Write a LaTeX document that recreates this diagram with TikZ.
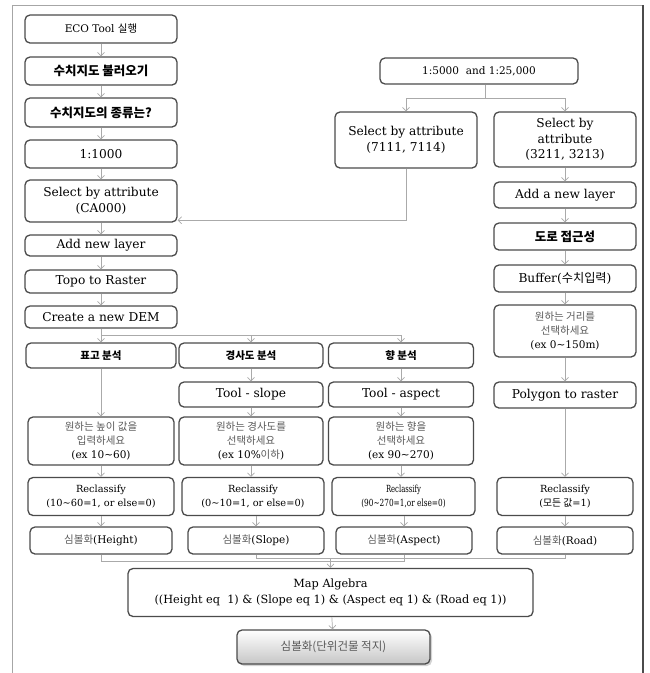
\documentclass[tikz,border=0pt]{standalone}
\usepackage{fontspec}
\setmainfont{DejaVu Serif}
\newfontfamily\kr{Noto Sans CJK KR}
\usetikzlibrary{%
	arrows.meta,%
	calc,%
	shadows
}

\definecolor{boxline}{HTML}{4B4B4B}
\definecolor{arrline}{HTML}{AAAAAA}
\definecolor{krgray}{HTML}{5A5A5A}

% Korean text: heading (bold) and plain (gray)
\newcommand{\kh}[1]{{\kr\bfseries #1}}
\newcommand{\kg}[1]{{\kr\color{krgray}#1}}

\begin{document}
\begin{tikzpicture}[x=1pt,y=-1pt,>={Straight Barb[length=3.5pt,width=7pt]},
	box/.style={draw=boxline, line width=1.3pt, rounded corners=5pt, fill=white,
		align=center, inner sep=1pt, font=\fontsize{12.2}{15.5}\selectfont},
	mid/.style={font=\fontsize{10.5}{14}\selectfont},
	small/.style={font=\fontsize{9.8}{14}\selectfont},
	head/.style={font=\fontsize{12.5}{14}\selectfont},
	arr/.style={->, draw=arrline, line width=0.7pt},
	link/.style={draw=arrline, line width=0.7pt}]
				\useasboundingbox (0,0) rectangle (650,673);
				
				% Frame
				\draw[gray!70, line width=0.8pt] (12,673) -- (12,5) -- (643,5);
				\draw[boxline, line width=2.5pt] (643,5) -- (643,673);
				
				% Left column
				\node[box, mid, minimum width=152pt, minimum height=28pt] (eco) at (101,29) {ECO Tool {\kr 실행}};
				\node[box, head, minimum width=152pt, minimum height=28pt] (load) at (101,71) {\kh{수치지도 불러오기}};
				\node[box, head, minimum width=152pt, minimum height=29pt] (kind) at (101,112.5) {\kh{수치지도의 종류는?}};
				\node[box, minimum width=152pt, minimum height=28pt] (s1000) at (101,154) {1:1000};
				\node[box, minimum width=152pt, minimum height=42pt] (selca) at (101,201) {Select by attribute\\(CA000)};
				\node[box, minimum width=152pt, minimum height=21pt] (addl) at (101,245.5) {Add new layer};
				\node[box, minimum width=152pt, minimum height=23pt] (topo) at (101,281.5) {Topo to Raster};
				\node[box, minimum width=152pt, minimum height=22pt] (dem) at (101,317) {Create a new DEM};
				
				% Right column
				\node[box, mid, minimum width=198pt, minimum height=26pt] (s5000) at (479,71) {1:5000\ \ and 1:25,000};
				\node[box, minimum width=142pt, minimum height=56pt] (sel71) at (406,140) {Select by attribute\\(7111, 7114)};
				\node[box, minimum width=142pt, minimum height=55pt] (sel32) at (565,139.5) {Select by\\attribute\\(3211, 3213)};
				\node[box, minimum width=142pt, minimum height=26pt] (addr) at (565,195) {Add a new layer};
				\node[box, head, minimum width=142pt, minimum height=27pt] (road) at (565,236.5) {\kh{도로 접근성}};
				\node[box, minimum width=142pt, minimum height=27pt] (buf) at (565,278.5) {Buffer({\kr 수치입력})};
				\node[box, mid, minimum width=142pt, minimum height=52pt] (dist) at (565,331) {\kg{원하는 거리를}\\\kg{선택하세요}\\(ex 0\textasciitilde150m)};
				\node[box, minimum width=142pt, minimum height=26pt] (poly) at (565,395) {Polygon to raster};
				
				% Analysis rows
				\node[box, mid, minimum width=150pt, minimum height=25pt] (hgt) at (101,355.5) {\kh{표고 분석}};
				\node[box, mid, minimum width=144pt, minimum height=25pt] (slp) at (251,355.5) {\kh{경사도 분석}};
				\node[box, mid, minimum width=145pt, minimum height=25pt] (asp) at (401,355.5) {\kh{향 분석}};
				\node[box, minimum width=144pt, minimum height=25pt] (tslp) at (251,394.5) {Tool - slope};
				\node[box, minimum width=145pt, minimum height=25pt] (tasp) at (401,394.5) {Tool - aspect};
				\node[box, mid, minimum width=146pt, minimum height=48pt] (hin) at (101,441) {\kg{원하는 높이 값을}\\\kg{입력하세요}\\(ex 10\textasciitilde60)};
				\node[box, mid, minimum width=144pt, minimum height=48pt] (sin) at (251,441) {\kg{원하는 경사도를}\\\kg{선택하세요}\\(ex 10\%\kg{이하})};
				\node[box, mid, minimum width=145pt, minimum height=48pt] (ain) at (401,441) {\kg{원하는 향을}\\\kg{선택하세요}\\(ex 90\textasciitilde270)};
				
				% Reclassify
				\node[box, small, minimum width=146pt, minimum height=38pt] (hre) at (101,496.5) {Reclassify\\(10\textasciitilde60=1, or else=0)};
				\node[box, small, minimum width=142pt, minimum height=38pt] (sre) at (253,496.5) {Reclassify\\(0\textasciitilde10=1, or else=0)};
				\node[box, small, minimum width=143pt, minimum height=38pt] (are) at (403.5,496.5) {\scalebox{0.7}[1]{Reclassify}\\\scalebox{0.75}[1]{(90\textasciitilde270=1,or else=0)}};
				\node[box, small, minimum width=136pt, minimum height=38pt] (rre) at (565,496.5) {Reclassify\\({\kr 모든 값}=1)};
				
				% Symbology
				\node[box, mid, minimum width=142pt, minimum height=27pt] (hsy) at (101,540.5) {{\kr\color{krgray}심볼화}(Height)};
				\node[box, mid, minimum width=136pt, minimum height=27pt] (ssy) at (256,540.5) {{\kr\color{krgray}심볼화}(Slope)};
				\node[box, mid, minimum width=136pt, minimum height=27pt] (asy) at (404,540.5) {{\kr\color{krgray}심볼화}(Aspect)};
				\node[box, mid, minimum width=136pt, minimum height=27pt] (rsy) at (565,540.5) {{\kr\color{krgray}심볼화}(Road)};
				
				% Result
				\node[box, font=\fontsize{11.3}{16}\selectfont, minimum width=405pt, minimum height=48pt] (alg) at (330.5,592.5) {Map Algebra\\((Height eq\ \ 1) \& (Slope eq 1) \& (Aspect eq 1) \& (Road eq 1))};
				\node[box, font=\fontsize{11.5}{14}\selectfont, minimum width=193pt, minimum height=34pt, top color=white, bottom color=gray!45,
					drop shadow={opacity=0.35, shadow xshift=2pt, shadow yshift=-2pt}] (fin) at (333.5,647) {\kg{심볼화(단위건물 적지)}};
				
				% Arrows, left column
				\foreach \a/\b in {eco/load,load/kind,kind/s1000,s1000/selca,selca/addl,addl/topo,topo/dem,dem/hgt,hgt/hin,hin/hre,hre/hsy}
				\draw[arr] (\a) -- (\b);
				\coordinate (split) at (101,335);
				\draw[arr] (split) -| (asp.north);
				\draw[arr] (split -| slp.north) -- (slp.north);
				\foreach \a/\b in {slp/tslp,tslp/sin,sin/sre,asp/tasp,tasp/ain,ain/are}
				\draw[arr] (\a.south) -- (\a.south |- \b.north);
				\draw[arr] (sre.south -| ssy.north) -- (ssy.north);
				\draw[arr] (are.south -| asy.north) -- (asy.north);
				
				% Arrows, right column
				\coordinate (fork) at (485,98);
				\draw[link] (s5000.south -| fork) -- (fork);
				\draw[arr] (fork) -| (sel71.north);
				\draw[arr] (fork) -| (sel32.north);
				\draw[arr] (sel71.south) |- ([yshift=2.5pt]selca.south east);
				\foreach \a/\b in {sel32/addr,addr/road,road/buf,buf/dist,dist/poly,poly/rre,rre/rsy}
				\draw[arr] (\a) -- (\b);
				
				% Joining lines
				\coordinate (jA) at (0,561);
				\coordinate (jB) at (0,558);
				\draw[link] (hsy.south) |- (asy.south |- jA) -- (asy.south);
				\draw[link] (ssy.south) |- (rsy.south |- jB) -- (rsy.south);
				\draw[arr] (alg.north |- jB) -- (alg.north);
				\draw[arr] (alg) -- (fin);
			\end{tikzpicture}
\end{document}
